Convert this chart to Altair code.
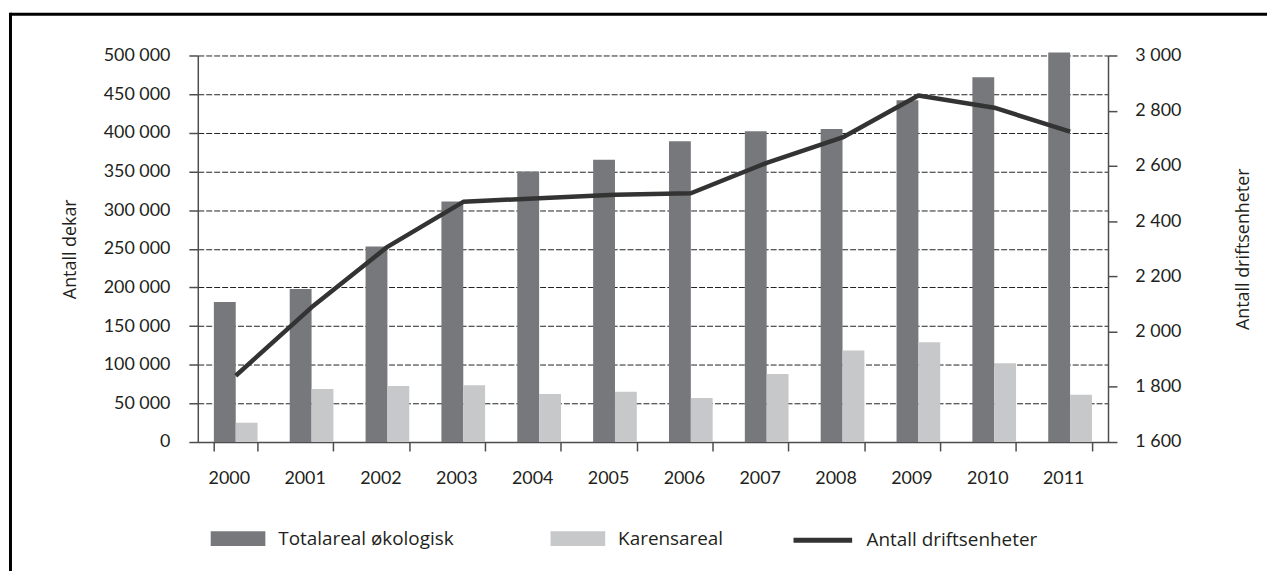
import altair as alt
import pandas as pd

# ---- data ----
years = ["2000", "2001", "2002", "2003", "2004", "2005",
         "2006", "2007", "2008", "2009", "2010", "2011"]
totalareal = [181000, 198000, 253000, 311000, 350000, 365000,
              389000, 402000, 405000, 442000, 472000, 504000]
karensareal = [25000, 68500, 72500, 73500, 62000, 65000,
               57000, 88000, 118500, 129000, 102000, 61000]
driftsenheter = [1840, 2088, 2307, 2470, 2483, 2496,
                 2501, 2611, 2703, 2855, 2811, 2724]
bar_series = ["Totalareal økologisk", "Karensareal"]
bar_colors = ["#77787b", "#c7c8ca"]
line_series = "Antall driftsenheter"
left_ticks = [0, 50000, 100000, 150000, 200000, 250000,
              300000, 350000, 400000, 450000, 500000]
right_ticks = [1600, 1800, 2000, 2200, 2400, 2600, 2800, 3000]

FONT = "Lato"
TFONT = "Open Sans"
TXT = "#231f20"
AX = "#4d4d4d"

bars_df = pd.DataFrame({
    "year": years * 2,
    "serie": [bar_series[0]] * len(years) + [bar_series[1]] * len(years),
    "value": totalareal + karensareal,
})
line_df = pd.DataFrame({
    "year": years,
    "value": driftsenheter,
    "serie": [line_series] * len(years),
})

x_enc = alt.X(
    "year:O",
    sort=years,
    scale=alt.Scale(paddingInner=0.424, paddingOuter=0.212),
    axis=alt.Axis(
        title=None, labelAngle=0, tickBand="extent", tickSize=9,
        labelPadding=19, labelOffset=-7, labelFont=FONT, labelFontSize=18,
        labelColor=TXT, domainColor=AX, tickColor=AX, domainWidth=1.5,
        tickWidth=1.5, grid=False,
    ),
)

bars = alt.Chart(bars_df).mark_bar().encode(
    x=x_enc,
    xOffset=alt.XOffset("serie:N", sort=bar_series,
                        scale=alt.Scale(domain=bar_series, paddingInner=0, paddingOuter=0)),
    y=alt.Y(
        "value:Q",
        scale=alt.Scale(domain=[0, 500000], nice=False, zero=True),
        axis=alt.Axis(
            orient="left", values=left_ticks, format=",d", title="Antall dekar",
            tickSize=9, labelPadding=19, labelFont=FONT, labelFontSize=18,
            labelColor=TXT, domainColor=AX, tickColor=AX, domainWidth=1.5,
            tickWidth=1.5, grid=True, gridColor="#222222", gridDash=[6, 2],
            gridWidth=1, titleFont=TFONT, titleFontSize=18, titleFontWeight="normal",
            titleColor=TXT, titleAngle=-90, titleX=-128, titleY=194.5,
            titleAlign="center", titleBaseline="middle",
        ),
    ),
    color=alt.Color(
        "serie:N",
        scale=alt.Scale(domain=bar_series, range=bar_colors),
        legend=alt.Legend(
            orient="none", legendX=13, legendY=458.5, direction="horizontal",
            columns=2, title=None, symbolType="M-1,-0.27L1,-0.27L1,0.27L-1,0.27Z",
            symbolSize=3025, symbolStrokeWidth=0, labelOffset=13,
            columnPadding=97, labelFont=TFONT, labelFontSize=19, labelColor=TXT,
            labelLimit=400,
        ),
    ),
)

line = alt.Chart(line_df).mark_line(strokeWidth=4.5, strokeJoin="round").encode(
    x=alt.X("year:O", sort=years),
    y=alt.Y(
        "value:Q",
        scale=alt.Scale(domain=[1600, 3000], nice=False, zero=False),
        axis=alt.Axis(
            orient="right", values=right_ticks, format=",d",
            title="Antall driftsenheter", tickSize=9, labelPadding=18,
            labelFont=FONT, labelFontSize=18, labelColor=TXT, domainColor=AX,
            tickColor=AX, domainWidth=1.5, tickWidth=1.5, grid=False,
            titleFont=TFONT, titleFontSize=18, titleFontWeight="normal",
            titleColor=TXT, titleAngle=-90, titleX=136, titleY=194.5,
            titleAlign="center", titleBaseline="middle",
        ),
    ),
    stroke=alt.Stroke(
        "serie:N",
        scale=alt.Scale(domain=[line_series], range=["#333333"]),
        legend=alt.Legend(
            orient="none", legendX=597, legendY=455.8, title=None,
            symbolType="stroke", symbolSize=3481, symbolStrokeWidth=5,
            labelOffset=12, labelFont=TFONT, labelFontSize=19, labelColor=TXT,
            labelLimit=400,
        ),
    ),
)

frame_df = pd.DataFrame({"k": [0]})
frame_top = alt.Chart(frame_df).mark_rule(color="black", strokeWidth=3).encode(
    x=alt.value(-188.5), x2=alt.value(1300), y=alt.value(-41.5)
)
frame_left = alt.Chart(frame_df).mark_rule(color="black", strokeWidth=3).encode(
    x=alt.value(-188.5), y=alt.value(-43), y2=alt.value(700)
)

chart = (
    alt.layer(bars, line, frame_top, frame_left)
    .resolve_scale(y="independent", color="independent")
    .properties(
        width=916, height=389,
        autosize=alt.AutoSizeParams(type="none"),
        padding={"left": 191, "top": 46, "right": 160, "bottom": 128},
    )
    .configure(locale={"number": {"decimal": ",", "thousands": " ",
                                  "grouping": [3], "currency": ["", " kr"]}})
    .configure_view(stroke=None)
)

chart.save("out.html", embed_options={"renderer": "svg", "actions": False})
